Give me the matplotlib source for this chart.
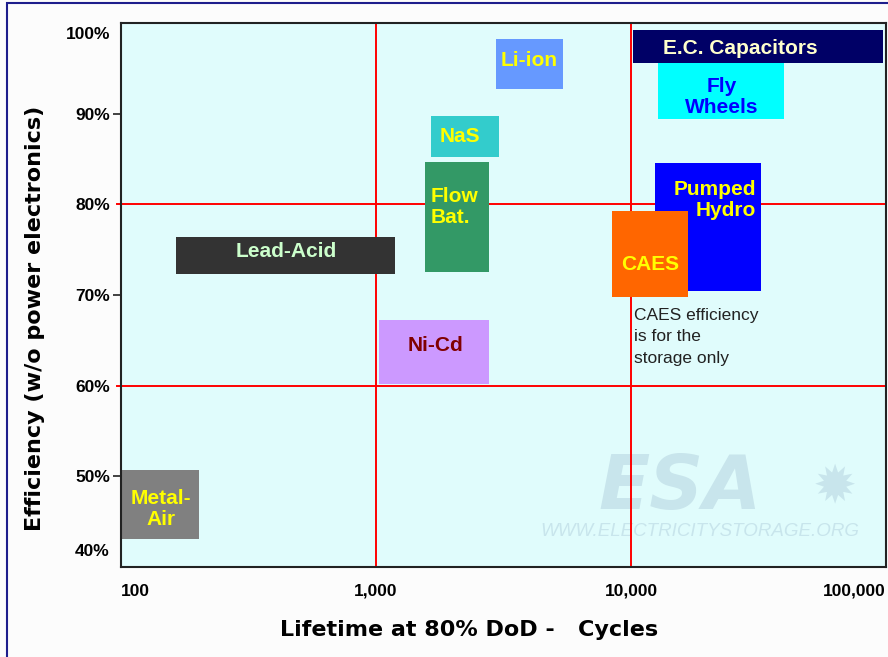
import numpy as np
import matplotlib
matplotlib.use("Agg")
import matplotlib.pyplot as plt
from matplotlib.patches import Rectangle
from matplotlib.transforms import ScaledTranslation

# ---- data ----
technologies = ["Lead-Acid", "Metal-\nAir", "Ni-Cd", "NaS", "Flow\nBat.", "Li-ion",
                "E.C. Capacitors", "Fly\nWheels", "Pumped\nHydro", "CAES"]
cycles_low = [165, 101, 1030, 1640, 1550, 2960, 10200, 12800, 12400, 8400]
cycles_high = [1190, 203, 2780, 3040, 2780, 5400, 97300, 39900, 32400, 16800]
eff_low = [72.3, 43.1, 60.2, 85.2, 72.5, 92.7, 95.6, 89.4, 70.4, 69.8]
eff_high = [76.4, 50.7, 67.2, 89.7, 84.7, 98.2, 99.2, 95.6, 84.6, 79.3]

x_ticks = [100, 1000, 10000, 100000]
x_ticklabels = ["100", "1,000", "10,000", "100,000"]
y_ticks = [40, 50, 60, 70, 80, 90, 100]
y_ticklabels = ["40%", "50%", "60%", "70%", "80%", "90%", "100%"]

# ---- styles ----
box_colors = ["#333333", "#808080", "#CC99FF", "#33CCCC", "#339966", "#6699FF",
              "#000066", "#00FFFF", "#0000FF", "#FF6600"]
text_colors = ["#CCFFCC", "#FFFF00", "#800000", "#FFFF00", "#FFFF00", "#FFFF00",
               "#FFFFCC", "#0000FF", "#FFFF00", "#FFFF00"]
# label anchor as fraction of box (fx in log-x from left, fy from top), alignment
label_fx = [0.5, 0.5, 0.51, 0.43, 0.1, 0.5, 0.43, 0.5, 0.95, 0.5]
label_fy = [0.4, 0.57, 0.39, 0.49, 0.41, 0.43, 0.55, 0.6, 0.29, 0.62]
label_ha = ["center", "center", "center", "center", "left", "center", "center",
            "center", "right", "center"]
label_ma = ["center", "center", "center", "center", "left", "center", "center",
            "center", "right", "center"]

FONT = "Liberation Sans"
WM = "#C8E5EC"

fig = plt.figure(figsize=(8.88, 6.57), dpi=100)
fig.patch.set_facecolor("#FCFCFC")
W, H = 888, 657
ax = fig.add_axes([121 / W, 1 - 567 / H, (886 - 121) / W, (567 - 23) / H])
ax.set_facecolor("#E0FCFC")
ax.set_xscale("log")
ax.set_xlim(100, 100000)
ax.set_ylim(40, 100)

# grid lines (under boxes)
for xv in [1000, 10000]:
    ax.axvline(xv, color="#FF0000", lw=1.4, zorder=1)
for yv in [60, 80]:
    ax.axhline(yv, xmin=-0.005, xmax=1, color="#FF0000", lw=1.4, zorder=1, clip_on=False)

# watermark
def axfrac(px, py):
    return ((px - 121) / 765, (567 - py) / 544)

ax.text(*axfrac(680, 488), "ESA", transform=ax.transAxes, fontsize=54, fontweight="bold",
        fontstyle="italic", color=WM, ha="center", va="center", family="DejaVu Sans",
        zorder=0.5)
ax.text(*axfrac(835, 488), "\u2739", transform=ax.transAxes, fontsize=38,
        color=WM, ha="center", va="center", family="DejaVu Sans", zorder=0.5)
ax.text(*axfrac(700, 531), "WWW.ELECTRICITYSTORAGE.ORG", transform=ax.transAxes,
        fontsize=13.5, fontstyle="italic", color=WM, ha="center", va="center",
        family=FONT, zorder=0.5)

for i, name in enumerate(technologies):
    x0, x1 = cycles_low[i], cycles_high[i]
    y0, y1 = eff_low[i], eff_high[i]
    ax.add_patch(Rectangle((x0, y0), x1 - x0, y1 - y0, facecolor=box_colors[i],
                           edgecolor="none", zorder=2))
    lx = 10 ** (np.log10(x0) + label_fx[i] * (np.log10(x1) - np.log10(x0)))
    ly = y1 - label_fy[i] * (y1 - y0)
    ax.text(lx, ly, name, color=text_colors[i], fontsize=15, fontweight="bold",
            ha=label_ha[i], va="center", multialignment=label_ma[i], family=FONT,
            linespacing=1.12, zorder=3)

ax.text(10270, 68.6, "CAES efficiency\nis for the\nstorage only", fontsize=12.5,
        family=FONT, color="#222222", ha="left", va="top", linespacing=1.55, zorder=3)

# axes styling
for s in ax.spines.values():
    s.set_color("#222222")
    s.set_linewidth(1.5)
    s.set_zorder(4)

ax.set_xticks(x_ticks)
ax.set_xticklabels(x_ticklabels, fontsize=12.5, fontweight="bold", family=FONT)
ax.xaxis.set_minor_locator(matplotlib.ticker.NullLocator())
ax.tick_params(axis="x", length=0, pad=12)
xl = ax.get_xticklabels()
xl[0].set_ha("left")
xl[-1].set_ha("right")

ax.set_yticks(y_ticks)
ax.set_yticklabels(y_ticklabels, fontsize=12.5, fontweight="bold", family=FONT)
ax.tick_params(axis="y", length=6, width=1.2, pad=2, color="#222222")
for t, v in zip(ax.yaxis.get_major_ticks(), y_ticks):
    if v in (40, 100, 60, 80):
        t.tick1line.set_visible(False)
yl = ax.get_yticklabels()
yl[0].set_transform(yl[0].get_transform() + ScaledTranslation(0, 17 / 100, fig.dpi_scale_trans))
yl[-1].set_transform(yl[-1].get_transform() + ScaledTranslation(0, -10 / 100, fig.dpi_scale_trans))

fig.text(35 / W, 1 - 318 / H, "Efficiency (w/o power electronics)", rotation=90,
         fontsize=16, fontweight="bold", family="DejaVu Sans", ha="center", va="center")
fig.text(469 / W, 1 - 630 / H, "Lifetime at 80% DoD -   Cycles",
         fontsize=16, fontweight="bold", family="DejaVu Sans", ha="center", va="center")

# figure border
fig.add_artist(Rectangle((7 / W, -0.1), 2, 1 - 3 / H + 0.1, transform=fig.transFigure,
                         fill=False, edgecolor="#1E1E8C", lw=1.5))

fig.savefig("out.png", dpi=100, facecolor=fig.get_facecolor())
